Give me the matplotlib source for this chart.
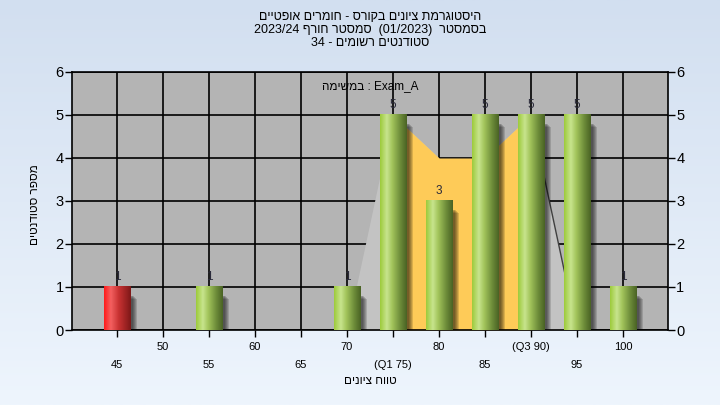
import re
import numpy as np
import matplotlib
matplotlib.use("Agg")
import matplotlib.pyplot as plt
from matplotlib.colors import LinearSegmentedColormap
from matplotlib.patches import Rectangle
from matplotlib.transforms import ScaledTranslation

plt.rcParams['font.family'] = ['Liberation Sans', 'DejaVu Sans']

# data
score_bins = [45, 50, 55, 60, 65, 70, 75, 80, 85, 90, 95, 100]
student_counts = [1, 0, 1, 0, 0, 1, 5, 3, 5, 5, 5, 1]
area_counts = [0, 0, 0, 0, 0, 0, 5, 4, 4, 5, 0, 0]
tick_labels = ['45', '50', '55', '60', '65', '70', '(Q1 75)', '80', '85', '(Q3 90)', '95', '100']
q1, q3 = 75, 90

title_lines = ['היסטוגרמת ציונים בקורס - חומרים אופטיים',
               'בסמסטר  (01/2023)  סמסטר חורף 2023/24',
               'סטודנטים רשומים - 34']
task_word = 'במשימה'
task_name = 'Exam_A'
x_label = 'טווח ציונים'
y_label = 'מספר סטודנטים'

HEB = re.compile('[\u0590-\u05ff]')


def rtl(s):
    # matplotlib has no bidi: put an RTL line into visual order by hand
    parts = re.split(r'(\s+)', s)
    return ''.join(p[::-1] if HEB.search(p) else p for p in reversed(parts))


fig = plt.figure(figsize=(7.2, 4.05), dpi=100)

# figure background gradient
bg = fig.add_axes([0, 0, 1, 1], zorder=-10)
bg_cmap = LinearSegmentedColormap.from_list('bg', ['#d2dff0', '#eef5fd'])
bg.imshow(np.linspace(0, 1, 256).reshape(-1, 1), cmap=bg_cmap, aspect='auto',
          extent=[0, 1, 0, 1])
bg.axis('off')

ax = fig.add_axes([72 / 720, 1 - 330 / 405, 596 / 720, 258 / 405])
ax.set_facecolor('#b4b4b4')
ax.set_axisbelow(True)

# background area series
xs = np.array(score_bins, dtype=float)
ys = np.array(area_counts, dtype=float)
ax.fill_between(xs, ys, where=(xs <= q1), color='#c3c3c3', lw=0, zorder=1, interpolate=True)
ax.fill_between(xs, ys, where=(xs >= q3), color='#c3c3c3', lw=0, zorder=1, interpolate=True)
ax.fill_between(xs, ys, where=(xs >= q1) & (xs <= q3), color='#fecb58', lw=0, zorder=1.1)
ax.plot([90, 95], [5, 0], color='#404040', lw=1, zorder=1.2)

green = LinearSegmentedColormap.from_list(
    'green', [(0, '#9dcb3c'), (0.25, '#c8e48e'), (0.45, '#a3c55c'), (0.75, '#6e8d3a'), (1, '#4a6324')])
red = LinearSegmentedColormap.from_list(
    'red', [(0, '#ff1a1a'), (0.25, '#f46060'), (0.55, '#c83232'), (1, '#7e1818')])
grad = np.linspace(0, 1, 64).reshape(1, -1)

w = 2.9
for i, (x, h) in enumerate(zip(score_bins, student_counts)):
    if h == 0:
        continue
    # soft shadow
    for k in range(5):
        ax.add_patch(Rectangle((x - w / 2 + 0.25 + k * 0.13, -0.1), w, h - 0.1 - k * 0.02,
                               color='black', alpha=0.14, lw=0, zorder=2))
    cmap = red if i == 0 else green
    ax.imshow(grad, cmap=cmap, aspect='auto', extent=[x - w / 2, x + w / 2, 0, h], zorder=3)
    ax.text(x, h + 0.1, str(h), ha='center', va='bottom', fontsize=8.5, color='#2a2a3a', zorder=4)

ax.set_xlim(40.1, 104.9)
ax.set_ylim(0, 6)
ax.set_yticks(range(7))
ax.set_xticks(score_bins)
ax.set_xticklabels(tick_labels)
ax.grid(True, color='black', lw=1.2)
for s in ax.spines.values():
    s.set_color('black')
    s.set_linewidth(1.2)

ax.tick_params(axis='y', which='both', direction='out', length=5, width=1, pad=1,
               labelsize=10.5, right=True, labelright=True, colors='black')
ax.tick_params(axis='x', direction='out', length=5, width=1, pad=4, labelsize=8)
for j, lab in enumerate(ax.get_xticklabels()):
    if j % 2 == 0:
        lab.set_transform(lab.get_transform() + ScaledTranslation(0, -0.17, fig.dpi_scale_trans))

fig.text(370 / 720, 1 - 381 / 405, rtl(x_label), ha='center', va='center', fontsize=8.5)
fig.text(35 / 720, 1 - 205 / 405, rtl(y_label), ha='center', va='center', fontsize=8.5, rotation=90)
ax.text(0.5, 1 - 14 / 258, rtl(task_word) + ' : ' + task_name, transform=ax.transAxes,
        ha='center', va='center', fontsize=8.5)

for k, line in enumerate(title_lines):
    fig.text(370 / 720, 1 - (17 + 13 * k) / 405, rtl(line), ha='center', va='center', fontsize=9)

fig.savefig('out.png', dpi=100)
